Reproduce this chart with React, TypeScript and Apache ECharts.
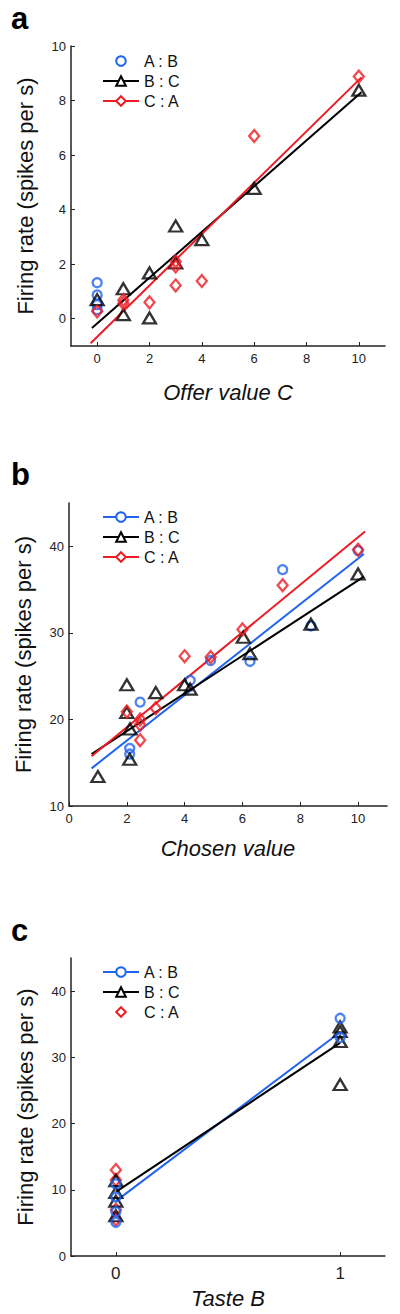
import React, { useEffect, useRef } from "react";
import * as echarts from "echarts";

const BLUE = "#1f63f0";
const RED = "#ec1c24";
const BLACK = "#000000";
const AXIS = "#222222";
const FONT = "'Liberation Sans', Arial, Helvetica, sans-serif";

// ---------- Panel a : Offer value C ----------
const aTicksX = [0, 2, 4, 6, 8, 10];
const aTicksY = [0, 2, 4, 6, 8, 10];
const aAB_x = [0, 0, 0, 0];
const aAB_y = [1.32, 0.87, 0.52, 0.33];
const aBC_x = [0, 1, 1, 2, 2, 3, 3, 4, 6, 10];
const aBC_y = [0.7, 1.1, 0.15, 1.68, 0.03, 3.4, 2.05, 2.9, 4.78, 8.38];
const aCA_x = [0, 1, 1, 2, 3, 3, 3, 4, 6, 10];
const aCA_y = [0.27, 0.69, 0.57, 0.6, 2.1, 1.92, 1.22, 1.38, 6.7, 8.88];
const aFitBC_x = [-0.2, 10.1];
const aFitBC_y = [-0.34, 8.3];
const aFitCA_x = [-0.25, 10.1];
const aFitCA_y = [-0.9, 8.85];

// ---------- Panel b : Chosen value ----------
const bTicksX = [0, 2, 4, 6, 8, 10];
const bTicksY = [10, 20, 30, 40];
const bAB_x = [7.39, 8.37, 6.26, 4.9, 4.19, 2.46, 2.1, 2.1, 10];
const bAB_y = [37.3, 30.8, 26.7, 26.8, 24.5, 22.0, 16.65, 16.0, 39.5];
const bBC_x = [10, 8.37, 6.26, 6.03, 4.0, 4.19, 3.0, 2.0, 2.11, 2.1, 1.0, 2.0];
const bBC_y = [36.8, 31.0, 27.6, 29.5, 24.0, 23.5, 23.1, 24.0, 18.9, 15.4, 13.4, 20.8];
const bCA_x = [10, 7.39, 6.0, 4.0, 4.9, 2.0, 3.0, 2.46, 2.46, 2.46];
const bCA_y = [39.6, 35.5, 30.4, 27.3, 27.2, 20.9, 21.3, 20.0, 19.4, 17.6];
const bFitAB_x = [0.78, 10.2];
const bFitAB_y = [14.35, 39.1];
const bFitBC_x = [0.78, 10.2];
const bFitBC_y = [16.0, 36.5];
const bFitCA_x = [0.78, 10.24];
const bFitCA_y = [15.75, 41.7];

// ---------- Panel c : Taste B ----------
const cTicksX = [0, 1];
const cTicksY = [0, 10, 20, 30, 40];
const cAB_x = [1, 1, 0, 0, 0, 0];
const cAB_y = [35.9, 33.0, 10.9, 8.9, 6.7, 5.1];
const cBC_x = [1, 1, 1, 1, 0, 0, 0, 0];
const cBC_y = [34.6, 33.9, 32.4, 25.9, 11.4, 9.6, 8.3, 6.1];
const cCA_x = [0, 0, 0, 0];
const cCA_y = [13.0, 11.5, 7.0, 5.5];
const cFitAB_x = [0, 1];
const cFitAB_y = [8.3, 33.8];
const cFitBC_x = [0, 1];
const cFitBC_y = [9.7, 32.2];

const zip = (xs: number[], ys: number[]) => xs.map((x, i) => [x, ys[i]]);

function scat(name: string, xs: number[], ys: number[], symbol: string, size: any, color: string) {
  return {
    type: "scatter",
    name,
    data: zip(xs, ys),
    symbol,
    symbolSize: size,
    itemStyle: { color: "rgba(0,0,0,0)", borderColor: color, borderWidth: 2.3 },
    z: 3,
    silent: true,
  };
}

function fit(name: string, xs: number[], ys: number[], color: string, symbol: string) {
  return {
    type: "line",
    name,
    data: zip(xs, ys),
    symbol,
    showSymbol: false,
    lineStyle: { color, width: 2 },
    itemStyle: { color },
    z: 2,
    silent: true,
  };
}

function proxy(name: string, color: string, symbol: string) {
  return {
    type: "line",
    name,
    data: [],
    symbol,
    lineStyle: { color, width: 2 },
    itemStyle: { color },
    silent: true,
  };
}

function axisX(min: number, max: number, ticks: number[], name: string, nameGap: number, labelSize: number, labelMargin: number) {
  return {
    type: "value",
    min,
    max,
    name,
    nameLocation: "middle",
    nameGap,
    nameTextStyle: { fontSize: 22, fontStyle: "italic", fontFamily: FONT, color: "#111" },
    axisLine: { show: true, onZero: false, lineStyle: { color: AXIS, width: 1.5 } },
    axisTick: { show: true, inside: true, length: 4, customValues: ticks, lineStyle: { color: AXIS, width: 1 } },
    axisLabel: { customValues: ticks, fontSize: labelSize, color: "#222", fontFamily: FONT, margin: labelMargin },
    splitLine: { show: false },
  };
}

function axisY(min: number, max: number, ticks: number[]) {
  return {
    type: "value",
    min,
    max,
    name: "Firing rate (spikes per s)",
    nameLocation: "middle",
    nameGap: 35,
    nameTextStyle: { fontSize: 22, fontFamily: FONT, color: "#111" },
    axisLine: { show: true, onZero: false, lineStyle: { color: AXIS, width: 1.5 } },
    axisTick: { show: true, inside: true, length: 4, customValues: ticks, lineStyle: { color: AXIS, width: 1 } },
    axisLabel: { customValues: ticks, fontSize: 13, color: "#222", fontFamily: FONT, margin: 5 },
    splitLine: { show: false },
  };
}

function legend(top: number, data: any[]) {
  return {
    left: 97,
    top,
    orient: "vertical",
    itemWidth: 36,
    itemHeight: 12,
    itemGap: 4,
    selectedMode: false,
    data,
    textStyle: { fontSize: 16, fontFamily: FONT, color: "#111" },
  };
}

function letter(txt: string, y: number) {
  return [
    {
      type: "text",
      left: 11,
      top: y,
      style: { text: txt, fontSize: 31, fontWeight: "bold", fontFamily: FONT, fill: "#000" },
    },
  ];
}

const optionA = {
  animation: false,
  grid: { left: 71, right: 15, top: 46, bottom: 94 },
  xAxis: axisX(-1, 11, aTicksX, "Offer value C", 35, 13, 6),
  yAxis: axisY(-1, 10, aTicksY),
  legend: legend(48, [
    { name: "A : B", lineStyle: { width: 0, color: "rgba(0,0,0,0)" } },
    "B : C",
    "C : A",
  ]),
  graphic: letter("a", 3),
  series: [
    proxy("A : B", BLUE, "emptyCircle"),
    fit("B : C", aFitBC_x, aFitBC_y, BLACK, "emptyTriangle"),
    fit("C : A", aFitCA_x, aFitCA_y, RED, "emptyDiamond"),
    scat("A : B", aAB_x, aAB_y, "circle", 9, BLUE),
    scat("B : C", aBC_x, aBC_y, "triangle", [13, 11], BLACK),
    scat("C : A", aCA_x, aCA_y, "diamond", [10, 12], RED),
  ],
};

const optionB = {
  animation: false,
  grid: { left: 69, right: 13, top: 63, bottom: 74 },
  xAxis: axisX(0, 11, bTicksX, "Chosen value", 31, 13, 6),
  yAxis: axisY(10, 45, bTicksY),
  legend: legend(64, ["A : B", "B : C", "C : A"]),
  graphic: letter("b", 19),
  series: [
    fit("A : B", bFitAB_x, bFitAB_y, BLUE, "emptyCircle"),
    fit("B : C", bFitBC_x, bFitBC_y, BLACK, "emptyTriangle"),
    fit("C : A", bFitCA_x, bFitCA_y, RED, "emptyDiamond"),
    scat("A : B", bAB_x, bAB_y, "circle", 9, BLUE),
    scat("B : C", bBC_x, bBC_y, "triangle", [13, 11], BLACK),
    scat("C : A", bCA_x, bCA_y, "diamond", [10, 12], RED),
  ],
};

const optionC = {
  animation: false,
  grid: { left: 71, right: 15, top: 78, bottom: 57 },
  xAxis: axisX(-0.2, 1.2, cTicksX, "Taste B", 30, 17, 9),
  yAxis: axisY(0, 45, cTicksY),
  legend: legend(79, [
    "A : B",
    "B : C",
    { name: "C : A", lineStyle: { width: 0, color: "rgba(0,0,0,0)" } },
  ]),
  graphic: letter("c", 35),
  series: [
    fit("A : B", cFitAB_x, cFitAB_y, BLUE, "emptyCircle"),
    fit("B : C", cFitBC_x, cFitBC_y, BLACK, "emptyTriangle"),
    proxy("C : A", RED, "emptyDiamond"),
    scat("C : A", cCA_x, cCA_y, "diamond", [10, 12], RED),
    scat("B : C", cBC_x, cBC_y, "triangle", [13, 11], BLACK),
    scat("A : B", cAB_x, cAB_y, "circle", 9, BLUE),
  ],
};

function Panel({ option, top, height }: { option: any; top: number; height: number }) {
  const ref = useRef<HTMLDivElement>(null);
  useEffect(() => {
    if (!ref.current) return;
    const chart = echarts.init(ref.current, undefined, { renderer: "svg" });
    chart.setOption(option);
    return () => chart.dispose();
  }, [option]);
  return (
    <div
      ref={ref}
      style={{ position: "absolute", left: 0, top, width: 400, height }}
    />
  );
}

export default function App() {
  return (
    <div style={{ position: "absolute", left: 0, top: 0, width: 400, height: 1314, background: "#fff" }}>
      <Panel option={optionA} top={0} height={440} />
      <Panel option={optionB} top={440} height={440} />
      <Panel option={optionC} top={880} height={434} />
    </div>
  );
}
